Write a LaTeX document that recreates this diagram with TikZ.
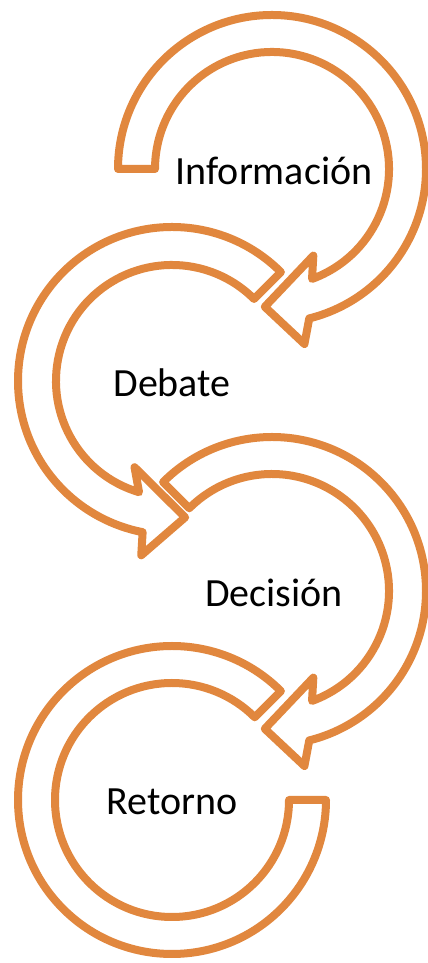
\documentclass[tikz,border=0pt]{standalone}
\usepackage{fontspec}
\setmainfont{Carlito}
\usepackage{tikz}
\definecolor{arroworange}{RGB}{225,135,62}

\begin{document}
\begin{tikzpicture}[x=0.5pt, y=0.5pt,
    band/.style = {draw=arroworange, line width=4pt, fill=white, line join=round},
    txt/.style = {font=\fontsize{20}{24}\selectfont}]
    \useasboundingbox (0,0) rectangle (428,963);
    \node[txt] (1) at (274,792) {Información};
    \node[txt] (2) at (172,580) {Debate};
    \node[txt] (3) at (274,370) {Decisión};
    \node[txt] (4) at (172,161) {Retorno};
    \begin{scope}[shift={(272,794)}]
        \draw[band] (180:154) arc[start angle=180, end angle=-76, radius=154] -- (-79.5:178) -- (-93:138) -- (-64.5:96) -- (-70:117) arc[start angle=-70, end angle=180, radius=117] -- cycle;
    \end{scope}
    \begin{scope}[shift={(172,582)}]
        \draw[band] (45:154) arc[start angle=45, end angle=259, radius=154] -- (260:177) -- (275.5:137) -- (246.5:94) -- (253.5:116) arc[start angle=253.5, end angle=45, radius=116] -- cycle;
    \end{scope}
    \begin{scope}[shift={(272,372)}]
        \draw[band] (135:154) arc[start angle=135, end angle=-76, radius=154] -- (-79.5:178) -- (-93:138) -- (-64.5:96) -- (-70:117) arc[start angle=-70, end angle=135, radius=117] -- cycle;
    \end{scope}
    \begin{scope}[shift={(172,163)}]
        \draw[band] (45:154) arc[start angle=45, end angle=360, radius=154] -- (0:117) arc[start angle=360, end angle=45, radius=117] -- cycle;
    \end{scope}
\end{tikzpicture}
\end{document}
